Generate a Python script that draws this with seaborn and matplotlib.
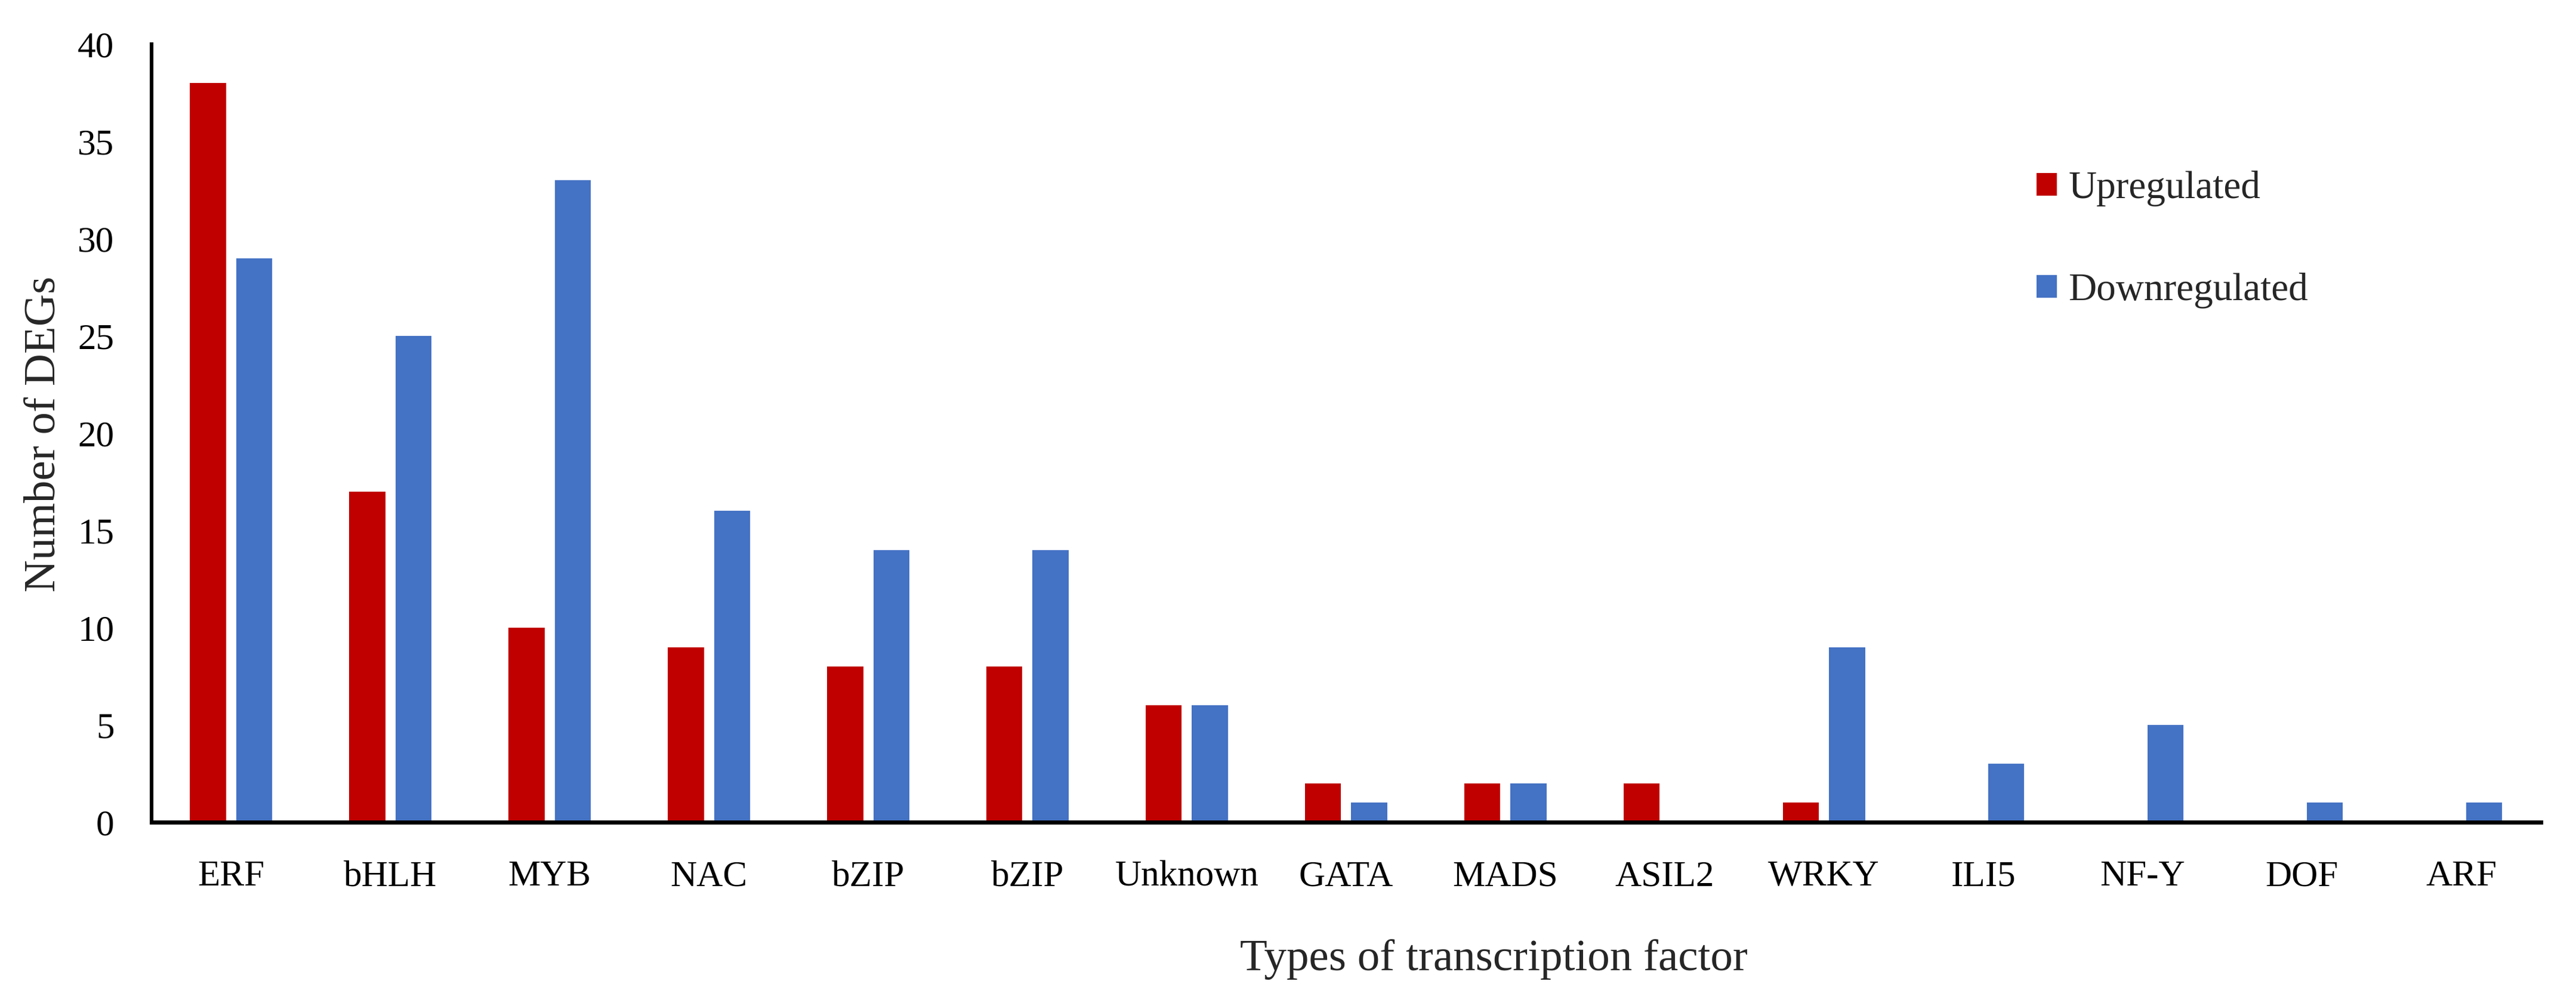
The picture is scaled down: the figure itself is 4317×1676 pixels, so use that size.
import pandas as pd
import matplotlib.pyplot as plt
import seaborn as sns

# data
factors = ["ERF", "bHLH", "MYB", "NAC", "bZIP", "bZIP", "Unknown", "GATA",
           "MADS", "ASIL2", "WRKY", "ILI5", "NF-Y", "DOF", "ARF"]
upregulated = [38, 17, 10, 9, 8, 8, 6, 2, 2, 2, 1, 0, 0, 0, 0]
downregulated = [29, 25, 33, 16, 14, 14, 6, 1, 2, 0, 9, 3, 5, 1, 1]
y_ticks = [0, 5, 10, 15, 20, 25, 30, 35, 40]

red = "#C00000"
blue = "#4472C4"

# long table, position index keeps the two bZIP groups apart
rows = []
for i, name in enumerate(factors):
    rows.append({"pos": i, "count": upregulated[i], "reg": "Upregulated"})
    rows.append({"pos": i, "count": downregulated[i], "reg": "Downregulated"})
df = pd.DataFrame(rows)

sns.set_style("white")
plt.rcParams["font.family"] = ["Liberation Serif", "DejaVu Serif"]

fig = plt.figure(figsize=(43.17, 16.76), dpi=100)
ax = fig.add_axes([0.0588, 0.1778, 0.9275, 0.7780])

sns.barplot(data=df, x="pos", y="count", hue="reg",
            palette=[red, blue], saturation=1, width=0.58, gap=0.22,
            linewidth=0, ax=ax)

ax.set_xlim(-0.5, len(factors) - 0.5)
ax.set_ylim(0, 40)
ax.set_yticks(y_ticks)
ax.set_xticks(range(len(factors)))
ax.set_xticklabels(factors)
ax.tick_params(axis="both", length=0, labelsize=44, colors="black")
ax.tick_params(axis="y", pad=45)
ax.tick_params(axis="x", pad=46)

for side in ["top", "right"]:
    ax.spines[side].set_visible(False)
ax.spines["left"].set_linewidth(4.3)
ax.spines["bottom"].set_linewidth(5)
ax.spines["left"].set_color("black")
ax.spines["bottom"].set_color("black")

ax.set_xlabel("Types of transcription factor", fontsize=54)
ax.xaxis.label.set_va("baseline")
ax.xaxis.set_label_coords(2503 / 4317, 1 - 1626 / 1676, transform=fig.transFigure)
ax.set_ylabel("Number of DEGs", fontsize=54)
ax.yaxis.set_label_coords(108 / 4317, 1 - 727 / 1676, transform=fig.transFigure)

handles, labels = ax.get_legend_handles_labels()
ax.legend(handles, labels, loc="upper left",
          bbox_to_anchor=(3413 / 4317, 1 - 286 / 1676),
          bbox_transform=fig.transFigure, frameon=False, fontsize=47,
          handlelength=0.52, handleheight=0.52, handletextpad=0.3,
          labelspacing=1.7, borderpad=0, borderaxespad=0)

fig.savefig("out.png", dpi=100)
